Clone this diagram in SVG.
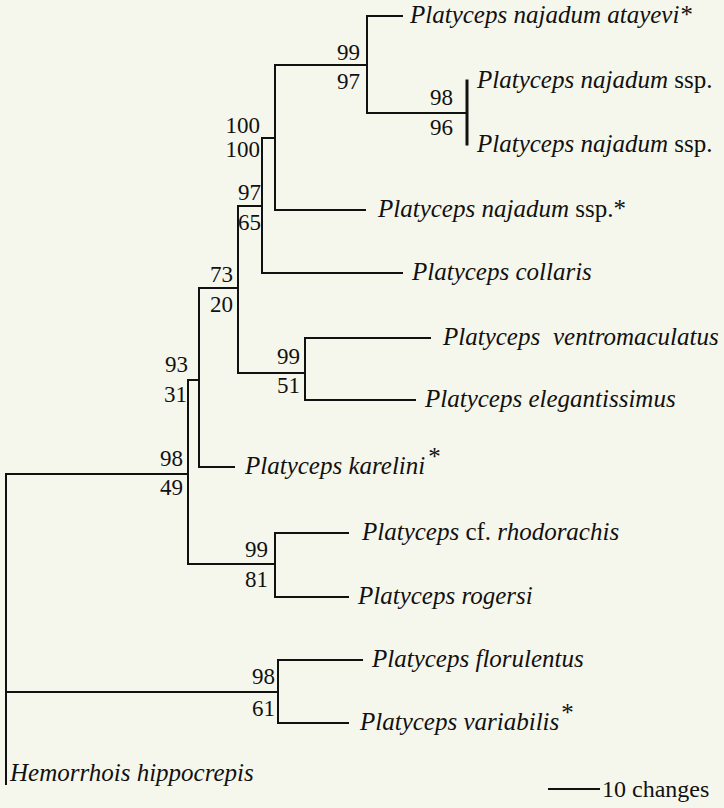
<svg xmlns="http://www.w3.org/2000/svg" width="724" height="808" viewBox="0 0 724 808" font-family="'Liberation Serif', serif">
<rect x="0" y="0" width="724" height="808" fill="#f6f7ec"/>
<g id="connectors" stroke="#111" stroke-width="2" fill="none" stroke-linecap="square">
  <path d="M367 16H402 M367 16V113 M275 65H367 M367 113H467"/>
  <path stroke-width="3" d="M467 81V144"/>
  <path d="M275 65V210 M275 210H365 M262 138H275"/>
  <path d="M262 138V273 M262 273H402 M238 206H262"/>
  <path d="M305 338V400 M305 338H430 M305 400H415 M238 373H305"/>
  <path d="M238 206V373 M199 288H238"/>
  <path d="M199 288V467 M199 467H234 M188 380H199"/>
  <path d="M275 533V597 M275 533H348 M275 597H348 M188 564H275"/>
  <path d="M188 380V564 M6 474H188"/>
  <path d="M278 660V723 M278 660H362 M278 723H348 M6 692H278"/>
  <path d="M6 474V784"/>
</g>
<g id="tip-atayevi"><text x="410" y="23" style="font-family:'Liberation Serif',serif !important;font-size:25px;font-style:italic;fill:#111">Platyceps najadum atayevi*</text></g>
<g id="tip-najadum-ssp-1"><text x="477" y="88" style="font-family:'Liberation Serif',serif !important;font-size:25px;font-style:italic;fill:#111">Platyceps najadum <tspan style="font-style:normal">ssp.</tspan></text></g>
<g id="tip-najadum-ssp-2"><text x="477" y="152" style="font-family:'Liberation Serif',serif !important;font-size:25px;font-style:italic;fill:#111">Platyceps najadum <tspan style="font-style:normal">ssp.</tspan></text></g>
<g id="tip-najadum-ssp-star"><text x="378" y="217" style="font-family:'Liberation Serif',serif !important;font-size:25px;font-style:italic;fill:#111">Platyceps najadum <tspan style="font-style:normal">ssp.*</tspan></text></g>
<g id="tip-collaris"><text x="412" y="280" style="font-family:'Liberation Serif',serif !important;font-size:25px;font-style:italic;fill:#111">Platyceps collaris</text></g>
<g id="tip-ventromaculatus"><text x="443" y="345" style="font-family:'Liberation Serif',serif !important;font-size:25px;font-style:italic;fill:#111">Platyceps<tspan x="553">ventromaculatus</tspan></text></g>
<g id="tip-elegantissimus"><text x="425" y="407" style="font-family:'Liberation Serif',serif !important;font-size:25px;font-style:italic;fill:#111">Platyceps elegantissimus</text></g>
<g id="tip-karelini"><text x="245" y="474" style="font-family:'Liberation Serif',serif !important;font-size:25px;font-style:italic;fill:#111">Platyceps karelini<tspan style="font-style:normal" dy="-9" dx="3">*</tspan></text></g>
<g id="tip-rhodorachis"><text x="362" y="540" style="font-family:'Liberation Serif',serif !important;font-size:25px;font-style:italic;fill:#111">Platyceps <tspan style="font-style:normal">cf.</tspan> rhodorachis</text></g>
<g id="tip-rogersi"><text x="358" y="604" style="font-family:'Liberation Serif',serif !important;font-size:25px;font-style:italic;fill:#111">Platyceps rogersi</text></g>
<g id="tip-florulentus"><text x="372" y="667" style="font-family:'Liberation Serif',serif !important;font-size:25px;font-style:italic;fill:#111">Platyceps florulentus</text></g>
<g id="tip-variabilis"><text x="360" y="730" style="font-family:'Liberation Serif',serif !important;font-size:25px;font-style:italic;fill:#111">Platyceps variabilis<tspan style="font-style:normal" dy="-9" dx="2">*</tspan></text></g>
<g id="tip-hemorrhois"><text x="10" y="781" style="font-family:'Liberation Serif',serif !important;font-size:25px;font-style:italic;fill:#111">Hemorrhois hippocrepis</text></g>
<g id="node-n1"><text x="360" y="60" style="font-family:'Liberation Serif',serif !important;font-size:23px;text-anchor:end;fill:#111">99</text><text x="360" y="89" style="font-family:'Liberation Serif',serif !important;font-size:23px;text-anchor:end;fill:#111">97</text></g>
<g id="node-n2"><text x="453" y="105" style="font-family:'Liberation Serif',serif !important;font-size:23px;text-anchor:end;fill:#111">98</text><text x="453" y="135" style="font-family:'Liberation Serif',serif !important;font-size:23px;text-anchor:end;fill:#111">96</text></g>
<g id="node-n3"><text x="260" y="133" style="font-family:'Liberation Serif',serif !important;font-size:23px;text-anchor:end;fill:#111">100</text><text x="260" y="157" style="font-family:'Liberation Serif',serif !important;font-size:23px;text-anchor:end;fill:#111">100</text></g>
<g id="node-n4"><text x="261" y="200" style="font-family:'Liberation Serif',serif !important;font-size:23px;text-anchor:end;fill:#111">97</text><text x="261" y="230" style="font-family:'Liberation Serif',serif !important;font-size:23px;text-anchor:end;fill:#111">65</text></g>
<g id="node-n6"><text x="233" y="282" style="font-family:'Liberation Serif',serif !important;font-size:23px;text-anchor:end;fill:#111">73</text><text x="233" y="312" style="font-family:'Liberation Serif',serif !important;font-size:23px;text-anchor:end;fill:#111">20</text></g>
<g id="node-n5"><text x="300" y="364" style="font-family:'Liberation Serif',serif !important;font-size:23px;text-anchor:end;fill:#111">99</text><text x="300" y="393" style="font-family:'Liberation Serif',serif !important;font-size:23px;text-anchor:end;fill:#111">51</text></g>
<g id="node-n7"><text x="188" y="372" style="font-family:'Liberation Serif',serif !important;font-size:23px;text-anchor:end;fill:#111">93</text><text x="187" y="402" style="font-family:'Liberation Serif',serif !important;font-size:23px;text-anchor:end;fill:#111">31</text></g>
<g id="node-n9"><text x="183" y="466" style="font-family:'Liberation Serif',serif !important;font-size:23px;text-anchor:end;fill:#111">98</text><text x="183" y="495" style="font-family:'Liberation Serif',serif !important;font-size:23px;text-anchor:end;fill:#111">49</text></g>
<g id="node-n8"><text x="268" y="557" style="font-family:'Liberation Serif',serif !important;font-size:23px;text-anchor:end;fill:#111">99</text><text x="268" y="587" style="font-family:'Liberation Serif',serif !important;font-size:23px;text-anchor:end;fill:#111">81</text></g>
<g id="node-n10"><text x="275" y="684" style="font-family:'Liberation Serif',serif !important;font-size:23px;text-anchor:end;fill:#111">98</text><text x="275" y="716" style="font-family:'Liberation Serif',serif !important;font-size:23px;text-anchor:end;fill:#111">61</text></g>
<g id="scale-bar"><path d="M548 789H600" stroke="#111" stroke-width="2"/><text x="602" y="797" style="font-family:'Liberation Serif',serif !important;font-size:24px;fill:#111">10 changes</text></g>
</svg>
